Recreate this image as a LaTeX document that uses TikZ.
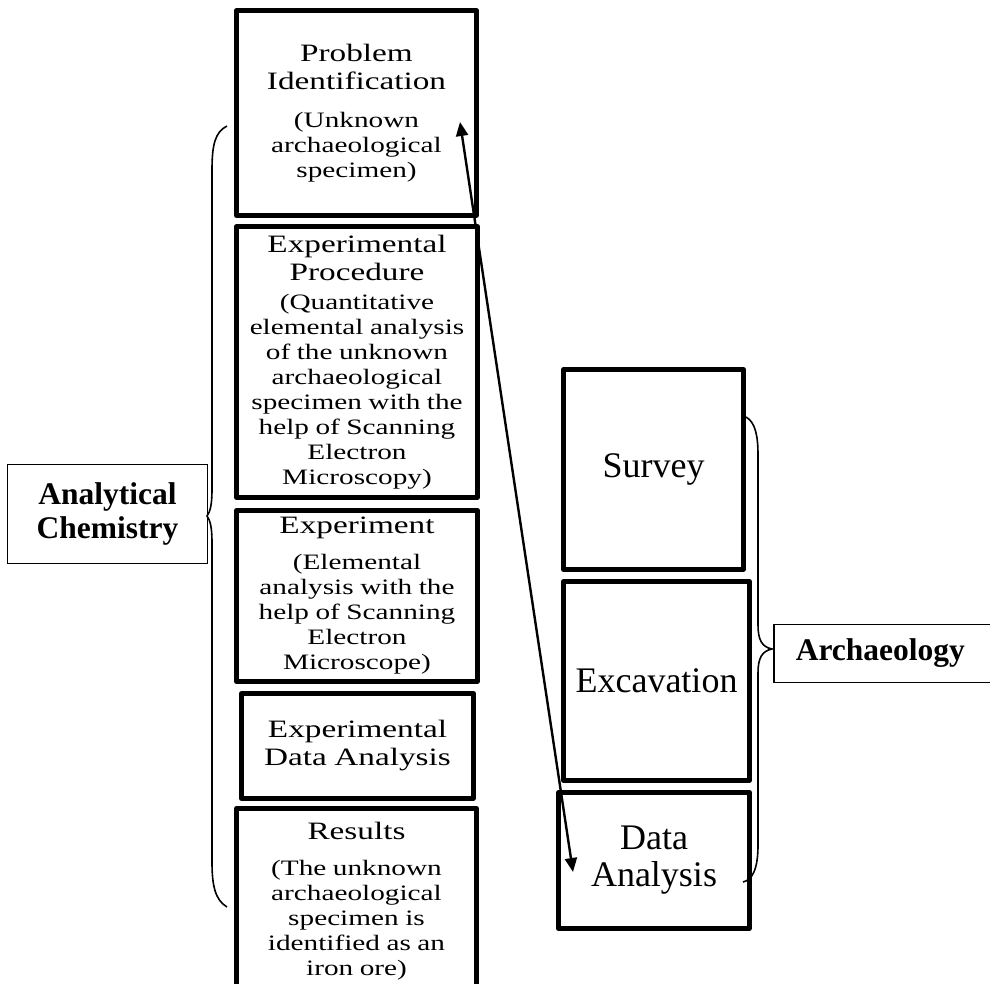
\documentclass[tikz,border=0pt]{standalone}
\usepackage{fontspec}
\setmainfont{Liberation Serif}
\newfontfamily\sciWide[FakeStretch=1.33]{Liberation Serif}
\usetikzlibrary{arrows.meta,positioning}
\definecolor{sciInk}{HTML}{000000}
\setlength{\parindent}{0pt}
\newcommand{\sciHead}{\sciWide\fontsize{25}{28}\selectfont
  \spaceskip=7.5pt\relax}
\newcommand{\sciNote}{\sciWide\fontsize{22}{25}\selectfont
  \spaceskip=6.5pt\relax}
\tikzset{
  sci/base/.style={draw=sciInk, line width=4.2pt, line join=round,
    align=center, inner sep=0pt},
  sci/chem/.style={sci/base, text width=232pt},
  sci/arch/.style={sci/base, font=\fontsize{36}{37}\selectfont},
  sci/label/.style={draw=sciInk, line width=1.6pt,
    font=\bfseries\fontsize{31.5}{34}\selectfont},
  sci/brace/.style={draw=sciInk, line width=1.6pt},
  sci/arrow/.style={{Triangle[length=14pt,width=12pt]}-{Triangle[length=14pt,width=12pt]},
    draw=sciInk, line width=2.4pt},
}

\begin{document}
\begin{tikzpicture}[x=1pt, y=-1pt]
\path[use as bounding box, fill=white] (0,0) rectangle (990,984);

% analytical chemistry column
\node[sci/chem, minimum width=240pt, minimum height=205pt] (prob) at (356.5,113)
  {{\sciHead Problem\\Identification\par}\vspace{13pt}%
   {\sciNote (Unknown\\archaeological\\specimen)\par}};
\node[sci/chem, minimum width=241pt, minimum height=271pt] (proc) at (357,362)
  {{\sciHead Experimental\\Procedure\par}\vspace{4pt}%
   {\sciNote (Quantitative\\elemental analysis\\of the unknown\\archaeological\\specimen with the\\help of Scanning\\Electron\\Microscopy)\par}};
\node[sci/chem, minimum width=241pt, minimum height=171pt] (expt) at (357,596)
  {{\sciHead Experiment\par}\vspace{11pt}%
   {\sciNote (Elemental\\analysis with the\\help of Scanning\\Electron\\Microscope)\par}};
\node[sci/chem, minimum width=226pt, minimum height=105pt] (edat) at (357.5,746)
  {{\sciHead Experimental\\Data Analysis\par}};
\node[sci/chem, minimum width=240pt, minimum height=185pt] (res) at (356.5,901)
  {{\sciHead Results\par}\vspace{11pt}%
   {\sciNote (The unknown\\archaeological\\specimen is\\identified as an\\iron ore)\par}};

% archaeology column
\node[sci/arch, minimum width=180pt, minimum height=200pt] (surv) at (653.5,469.5) {Survey};
\node[sci/arch, minimum width=186pt, minimum height=199pt] (exca) at (656.5,681) {Excavation};
\node[sci/arch, minimum width=191pt, minimum height=136pt] (dana) at (654,860.5) {Data\\Analysis};

% group labels
\node[sci/label, minimum width=200pt, minimum height=99pt, align=center] (chemLab)
  at (107.5,514) {Analytical\\Chemistry};
\node[sci/label, anchor=west, minimum height=58pt, text width=200pt,
  inner xsep=22pt, align=left] (archLab) at (773,653.5) {Archaeology};

% braces
\draw[sci/brace] (227,126) .. controls (215,132) and (212,145) .. (212,170)
  -- (212,490) .. controls (212,505) and (210,512) .. (207,516)
  .. controls (210,520) and (212,527) .. (212,542)
  -- (212,862) .. controls (212,885) and (215,900) .. (227,907);
\draw[sci/brace] (746,417) .. controls (755,422) and (758,435) .. (758,455)
  -- (758,625) .. controls (758,640) and (762,647) .. (772,649)
  .. controls (762,651) and (758,658) .. (758,673)
  -- (758,845) .. controls (758,870) and (752,880) .. (743,882);

% link between the two fields
\coordinate (probPt) at (460,122);
\coordinate (danaPt) at (573,872);
\draw[sci/arrow] (danaPt) -- (probPt);
\end{tikzpicture}
\end{document}
